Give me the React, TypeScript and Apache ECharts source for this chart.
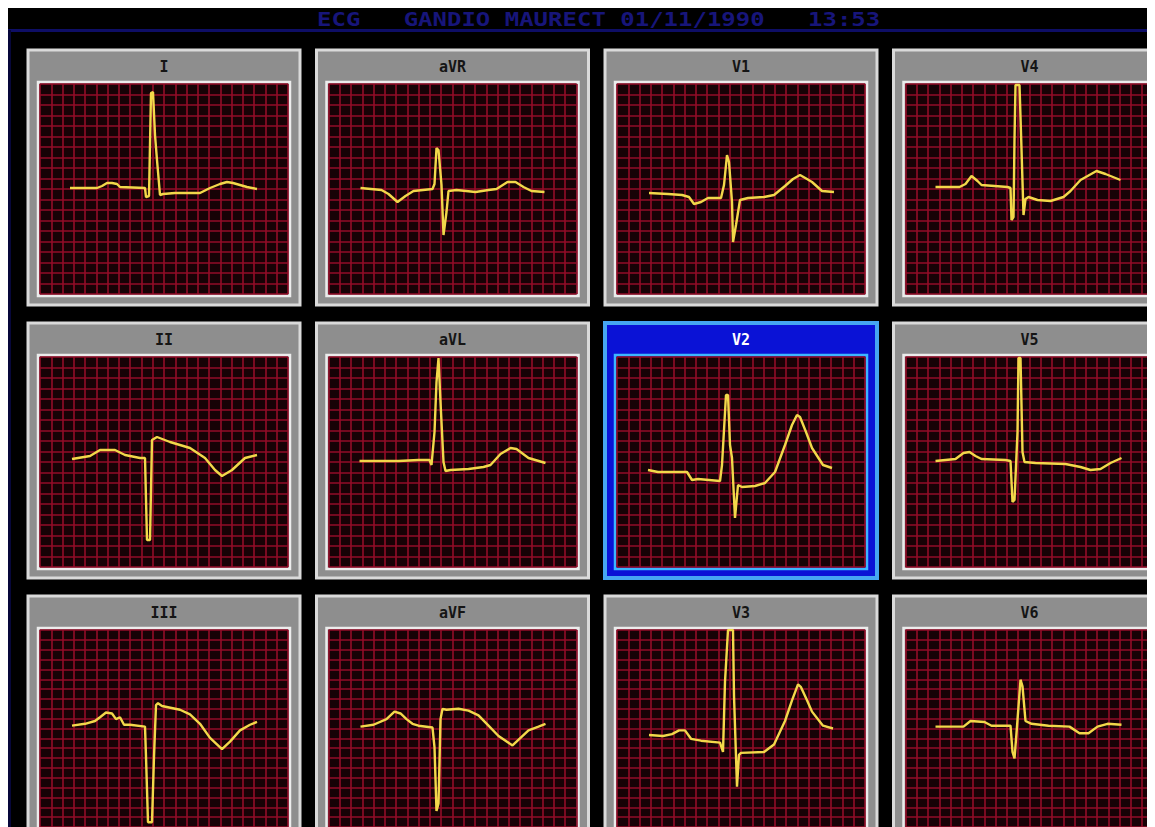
import { useEffect, useRef } from 'react';
import * as echarts from 'echarts';

// Lead names, row-major as shown on the monitor (4 columns x 3 rows)
const leadNames = ['I', 'aVR', 'V1', 'V4', 'II', 'aVL', 'V2', 'V5', 'III', 'aVF', 'V3', 'V6'];
const selectedLead = 'V2';
const headerTitle = 'ECG   GANDIO MAURECT 01/11/1990   13:53';

// Traces: [time, amplitude] in grid units (one small box = 11.27 x 10.5 units), baseline at 0
const leadI = [[30,1],[57,1],[62,3],[67,6],[72,6],[77,5],[80,2],[105,1],[106,-8],[109,-7],[111,96],[113,97],[115,54],[117,29],[120,-6],[123,-5],[135,-4],[147,-4],[160,-4],[170,1],[180,5],[187,7],[193,6],[200,4],[207,2],[217,0]];
const leadAVR = [[32,1],[53,-1],[60,-5],[69,-13],[77,-7],[85,-2],[104,0],[106,5],[108,41],[110,39],[113,4],[115,-46],[118,-23],[120,-2],[128,-1],[147,-3],[160,-1],[168,0],[179,7],[187,7],[195,2],[203,-2],[216,-3]];
const leadV1 = [[32,-4],[51,-5],[65,-6],[72,-8],[77,-15],[84,-13],[91,-9],[104,-9],[107,4],[110,34],[112,27],[115,-13],[116,-53],[119,-36],[123,-11],[131,-9],[147,-8],[157,-6],[168,3],[176,10],[183,14],[190,10],[195,7],[205,-2],[217,-3]];
const leadV4 = [[30,2],[54,2],[60,5],[66,13],[72,8],[76,4],[102,2],[105,1],[106,-31],[108,-28],[109,50],[110,104],[114,104],[116,40],[118,-26],[120,-10],[123,-8],[132,-11],[145,-12],[158,-8],[165,-2],[175,9],[191,18],[200,15],[215,9]];
const leadII = [[32,3],[50,6],[60,12],[75,12],[85,7],[100,4],[105,4],[107,-78],[110,-78],[112,22],[117,25],[130,20],[150,14],[165,4],[175,-8],[182,-14],[192,-8],[205,4],[217,7]];
const leadAVL = [[31,1],[70,1],[90,2],[101,2],[103,-3],[106,30],[108,80],[110,104],[112,60],[115,0],[117,-9],[122,-8],[140,-7],[155,-5],[162,-3],[172,8],[182,14],[188,13],[200,4],[217,-1]];
const leadV2 = [[31,-8],[41,-10],[70,-10],[75,-18],[81,-17],[103,-19],[105,-3],[109,67],[111,67],[113,17],[115,4],[118,-56],[121,-23],[125,-25],[138,-24],[148,-21],[158,-10],[168,17],[175,37],[180,47],[183,45],[189,30],[195,14],[206,-3],[215,-6]];
const leadV5 = [[30,1],[50,3],[58,9],[64,10],[70,6],[76,3],[100,2],[105,1],[107,-40],[109,-38],[112,30],[113,104],[115,104],[117,10],[119,0],[130,-1],[160,-2],[175,-5],[185,-8],[195,-7],[205,-1],[216,4]];
const leadIII = [[32,3],[45,5],[55,8],[60,12],[66,17],[72,16],[76,10],[80,12],[84,4],[90,4],[105,2],[106,-30],[108,-100],[112,-100],[114,-30],[116,25],[118,27],[122,24],[140,20],[150,15],[160,5],[170,-10],[182,-22],[190,-14],[200,-2],[210,4],[217,7]];
const leadAVF = [[32,2],[45,4],[58,10],[66,18],[72,16],[78,10],[84,5],[90,3],[104,1],[106,-20],[108,-88],[110,-80],[112,10],[114,21],[118,20],[130,21],[140,19],[150,14],[160,3],[170,-8],[184,-18],[192,-10],[200,-2],[210,2],[217,5]];
const leadV3 = [[32,-7],[46,-8],[55,-6],[62,-2],[68,-2],[74,-11],[84,-13],[103,-15],[106,-25],[108,50],[111,105],[116,105],[117,35],[120,-62],[122,-28],[124,-26],[147,-25],[157,-17],[168,8],[175,30],[181,47],[184,44],[190,30],[195,18],[206,3],[216,0]];
const leadV6 = [[30,2],[58,2],[65,8],[79,7],[86,3],[105,3],[107,-25],[109,-32],[111,-5],[115,52],[117,45],[120,8],[126,5],[143,3],[164,2],[174,-5],[183,-5],[192,2],[202,5],[216,4]];

const traces = [leadI, leadAVR, leadV1, leadV4, leadII, leadAVL, leadV2, leadV5, leadIII, leadAVF, leadV3, leadV6];

// Axis ranges (grid units)
const X_MAX = 248;
const X_BOXES = 22;
const Y_MIN = -105;
const Y_MAX = 105;
const Y_BOX = 10.5;

function buildOption() {
  const PX0 = 20, PDX = 288.5, PY0 = 42, PDY = 273, PW = 272, PH = 255;
  const GW = 248, GH = 210;
  const grids: any[] = [];
  const xAxes: any[] = [];
  const yAxes: any[] = [];
  const series: any[] = [];
  const graphics: any[] = [];

  // header title and rule
  graphics.push({
    type: 'line', z: 1,
    shape: { x1: 0, y1: 22.5, x2: 1147, y2: 22.5 },
    style: { stroke: '#0e0e66', lineWidth: 3 },
  });
  graphics.push({
    type: 'line', z: 1,
    shape: { x1: 1.5, y1: 22, x2: 1.5, y2: 819 },
    style: { stroke: '#07073a', lineWidth: 3 },
  });
  graphics.push({
    type: 'text', z: 2, x: 309, y: 11, scaleX: 1.2,
    style: {
      text: headerTitle,
      fill: '#17157a',
      font: 'bold 20px "DejaVu Sans Mono"',
      textAlign: 'left', align: 'left',
      textVerticalAlign: 'middle', verticalAlign: 'middle',
    },
  });

  leadNames.forEach((name, i) => {
    const col = i % 4;
    const row = Math.floor(i / 4);
    const px = PX0 + col * PDX;
    const py = PY0 + row * PDY;
    const gl = px + 12;
    const gt = py + 34;
    const sel = name === selectedLead;

    graphics.push({
      type: 'rect', z: 1,
      shape: { x: px, y: py, width: PW, height: PH },
      style: { fill: sel ? '#0a12d6' : '#8e8e8e', stroke: sel ? '#46a6f2' : '#dadada', lineWidth: sel ? 4 : 3 },
    });
    graphics.push({
      type: 'rect', z: 1,
      shape: { x: gl - 2, y: gt - 2, width: GW + 4, height: GH + 4 },
      style: { fill: 'none', stroke: sel ? '#3cb6ff' : '#ececec', lineWidth: 2.5 },
    });
    graphics.push({
      type: 'text', z: 2, x: px + PW / 2, y: py + 17,
      style: {
        text: name,
        fill: sel ? '#ffffff' : '#151515',
        font: 'bold 15px "DejaVu Sans Mono"',
        textAlign: 'center', align: 'center',
        textVerticalAlign: 'middle', verticalAlign: 'middle',
      },
    });

    grids.push({
      left: gl, top: gt, width: GW, height: GH,
      show: true, backgroundColor: '#170206', borderWidth: 0, z: 3,
    });
    xAxes.push({
      type: 'value', gridIndex: i, min: 0, max: X_MAX, interval: X_MAX / X_BOXES, z: 4,
      axisLine: { show: false }, axisTick: { show: false }, axisLabel: { show: false },
      splitLine: { show: true, lineStyle: { color: '#930d28', width: 1.6 } },
    });
    yAxes.push({
      type: 'value', gridIndex: i, min: Y_MIN, max: Y_MAX, interval: Y_BOX, z: 4,
      axisLine: { show: false }, axisTick: { show: false }, axisLabel: { show: false },
      splitLine: { show: true, lineStyle: { color: '#930d28', width: 1.6 } },
    });
    series.push({
      type: 'line', name, xAxisIndex: i, yAxisIndex: i, z: 6,
      data: traces[i], showSymbol: false, symbol: 'none', silent: true, clip: true,
      lineStyle: { color: '#f2d84a', width: 2.4 },
    });
  });

  return {
    animation: false,
    backgroundColor: '#000000',
    grid: grids,
    xAxis: xAxes,
    yAxis: yAxes,
    series,
    graphic: { elements: graphics },
  };
}

export default function App() {
  const ref = useRef<HTMLDivElement>(null);
  useEffect(() => {
    document.documentElement.style.overflow = 'hidden';
    const chart = echarts.init(ref.current!, null, { renderer: 'svg' });
    chart.setOption(buildOption());
    return () => chart.dispose();
  }, []);
  return <div ref={ref} style={{ width: 1147, height: 819 }} />;
}
